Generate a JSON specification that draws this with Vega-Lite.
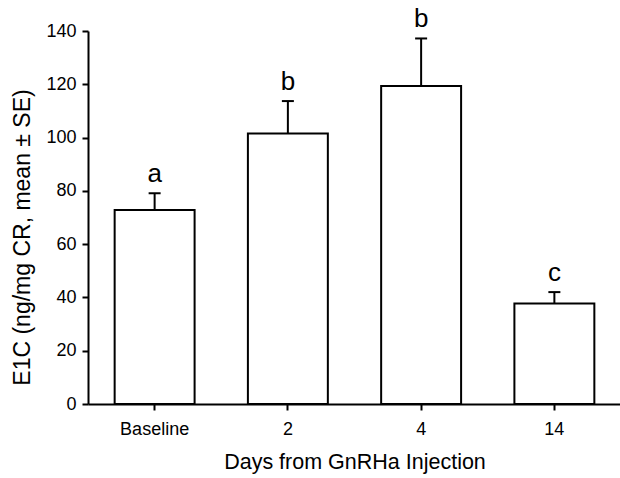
{
  "$schema": "https://vega.github.io/schema/vega-lite/v6.json",
  "width": 533,
  "height": 373,
  "autosize": "none",
  "padding": {"left": 88, "top": 31, "right": 0, "bottom": 74},
  "background": "white",
  "config": {
    "view": {"stroke": null},
    "font": "Liberation Sans",
    "axis": {
      "grid": false,
      "domainColor": "black",
      "domainWidth": 2,
      "tickColor": "black",
      "tickWidth": 2,
      "tickSize": 6,
      "labelColor": "black",
      "titleColor": "black",
      "titleFontWeight": "normal",
      "labelFont": "Liberation Sans",
      "titleFont": "Liberation Sans"
    }
  },
  "data": {
    "values": [
      {"day": "Baseline", "mean": 72.8, "hi": 79.1, "letter": "a"},
      {"day": "2", "mean": 101.5, "hi": 113.7, "letter": "b"},
      {"day": "4", "mean": 119.4, "hi": 137.2, "letter": "b"},
      {"day": "14", "mean": 37.7, "hi": 42.0, "letter": "c"}
    ]
  },
  "encoding": {
    "x": {
      "field": "day",
      "type": "nominal",
      "sort": ["Baseline", "2", "4", "14"],
      "scale": {"paddingInner": 0.4, "paddingOuter": 0.2},
      "axis": {
        "title": "Days from GnRHa Injection",
        "labelAngle": 0,
        "labelFontSize": 18,
        "labelPadding": 10,
        "titleFontSize": 21.5,
        "titleBaseline": "top",
        "titleY": 47
      }
    }
  },
  "layer": [
    {
      "mark": {"type": "bar", "fill": "white", "stroke": "black", "strokeWidth": 2},
      "encoding": {
        "y": {
          "field": "mean",
          "type": "quantitative",
          "scale": {"domain": [0, 140], "nice": false},
          "axis": {
            "title": "E1C (ng/mg CR, mean ± SE)",
            "values": [0, 20, 40, 60, 80, 100, 120, 140],
            "labelFontSize": 18,
            "labelPadding": 6,
            "titleFontSize": 23,
            "titleAngle": -90,
            "titleAlign": "center",
            "titleBaseline": "alphabetic",
            "titleX": -58.5,
            "titleY": 206
          }
        }
      }
    },
    {
      "mark": {"type": "rule", "color": "black", "strokeWidth": 2},
      "encoding": {
        "y": {"field": "mean", "type": "quantitative"},
        "y2": {"field": "hi"}
      }
    },
    {
      "mark": {"type": "tick", "color": "black", "thickness": 2, "size": 12, "orient": "horizontal", "opacity": 1},
      "encoding": {
        "y": {"field": "hi", "type": "quantitative"}
      }
    },
    {
      "mark": {"type": "text", "fontSize": 26, "dy": -11, "baseline": "alphabetic", "color": "black"},
      "encoding": {
        "y": {"field": "hi", "type": "quantitative"},
        "text": {"field": "letter"}
      }
    }
  ]
}
